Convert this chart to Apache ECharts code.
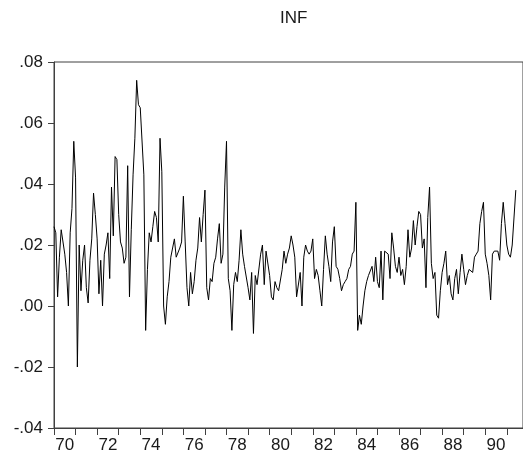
<!DOCTYPE html>
<html>
<head>
<meta charset="utf-8">
<script src="https://cdn.jsdelivr.net/npm/echarts@6/dist/echarts.min.js"></script>
<style>html,body{margin:0;padding:0;background:#fff;}#c{width:523px;height:455px;}</style>
</head>
<body>
<div id="c"></div>
<script>
// Monthly INF, starting 1970:01
var startYear = 1970;
var inf1970 = [.026, .024, .003, .016, .025, .025, .017, .011, .000, .024, .032, .054];
var inf1971 = [.042, -.020, .020, .005, .015, .020, .006, .001, .015, .022, .037, .030];
var inf1972 = [.022, .004, .015, .000, .017, .020, .024, .009, .039, .023, .049, .048];
var inf1973 = [.030, .021, .019, .014, .016, .046, .003, .025, .043, .055, .074, .066];
var inf1974 = [.065, .065, .043, -.008, .012, .024, .021, .026, .031, .029, .021, .055];
var inf1975 = [.044, .000, -.006, .003, .008, .016, .016, .022, .016, .016, .019, .021];
var inf1976 = [.036, .021, .006, .000, .011, .004, .008, .015, .019, .029, .021, .030];
var inf1977 = [.038, .006, .002, .009, .008, .014, .016, .022, .027, .014, .017, .039];
var inf1978 = [.054, .009, .005, -.008, .007, .011, .008, .015, .025, .017, .013, .013];
var inf1979 = [.006, .002, .011, -.009, .010, .007, .007, .017, .020, .007, .018, .018];
var inf1980 = [.010, .003, .002, .008, .006, .005, .005, .012, .018, .014, .017, .019];
var inf1981 = [.023, .020, .016, .003, .003, .011, .000, .016, .020, .018, .017, .018];
var inf1982 = [.022, .009, .012, .010, .005, .000, .012, .023, .017, .013, .008, .021];
var inf1983 = [.026, .013, .012, .009, .005, .007, .008, .009, .012, .013, .017, .018];
var inf1984 = [.034, -.008, -.003, -.006, .000, .005, .008, .010, .010, .013, .008, .016];
var inf1985 = [.008, .006, .018, .002, .018, .018, .017, .009, .024, .019, .013, .011];
var inf1986 = [.016, .010, .012, .007, .013, .025, .016, .019, .028, .020, .026, .031];
var inf1987 = [.030, .019, .022, .006, .029, .039, .014, .009, .011, -.003, -.004, .005];
var inf1988 = [.011, .014, .018, .007, .010, .004, .002, .009, .012, .004, .011, .017];
var inf1989 = [.012, .007, .010, .012, .012, .011, .016, .017, .018, .027, .031, .034];
var inf1990 = [.017, .014, .010, .002, .017, .018, .018, .018, .015, .027, .034, .027];
var inf1991 = [.020, .017, .016, .020, .020, .038];

var yTicks = [-0.04, -0.02, 0.00, 0.02, 0.04, 0.06, 0.08];
var xLabelYears = [70, 72, 74, 76, 78, 80, 82, 84, 86, 88, 90];

var years = [inf1970, inf1971, inf1972, inf1973, inf1974, inf1975, inf1976, inf1977,
  inf1978, inf1979, inf1980, inf1981, inf1982, inf1983, inf1984, inf1985, inf1986,
  inf1987, inf1988, inf1989, inf1990, inf1991];
var values = [].concat.apply([], years);
var data = values.map(function (v, i) { return [i, v]; });

var tickMonths = [];
for (var m = 0; m <= 252; m += 12) tickMonths.push(m);
var labelMonths = xLabelYears.map(function (y) { return (1900 + y - startYear) * 12 + 6; });

var font = "'Liberation Sans', Arial, sans-serif";
var chart = echarts.init(document.getElementById('c'), null, { renderer: 'canvas' });
chart.setOption({
  animation: false,
  backgroundColor: '#fff',
  title: {
    text: 'INF', left: 280, top: 10, padding: 0,
    textStyle: { fontFamily: font, fontSize: 17, fontWeight: 'normal', color: '#1a1a1a' }
  },
  grid: { left: 54, top: 62, width: 476, height: 366, show: true, borderColor: '#404040', borderWidth: 1 },
  xAxis: {
    type: 'value', min: 0, max: 261,
    axisLine: { show: true, onZero: false, lineStyle: { color: '#404040', width: 1 } },
    axisTick: { show: true, customValues: tickMonths, length: 7, inside: false, lineStyle: { color: '#404040' } },
    axisLabel: {
      customValues: labelMonths, margin: 9, fontFamily: font, fontSize: 17, color: '#1a1a1a',
      formatter: function (v) { var y = startYear + Math.floor(v / 12); return String(y % 100).padStart(2, '0'); }
    },
    splitLine: { show: false }
  },
  yAxis: {
    type: 'value', min: -0.04, max: 0.08, interval: 0.02,
    axisLine: { show: true, onZero: false, lineStyle: { color: '#404040', width: 1 } },
    axisTick: { show: true, length: 6, inside: false, lineStyle: { color: '#404040' } },
    axisLabel: {
      margin: 11, fontFamily: font, fontSize: 17, color: '#1a1a1a',
      formatter: function (v) {
        var s = Math.abs(v).toFixed(2).replace(/^0/, '');
        return (v < -1e-9 ? '-' : '') + s;
      }
    },
    splitLine: { show: false }
  },
  series: [{
    type: 'line', data: data, showSymbol: false, symbol: 'none',
    lineStyle: { color: '#000', width: 1 }, silent: true
  }]
});
</script>
</body>
</html>
